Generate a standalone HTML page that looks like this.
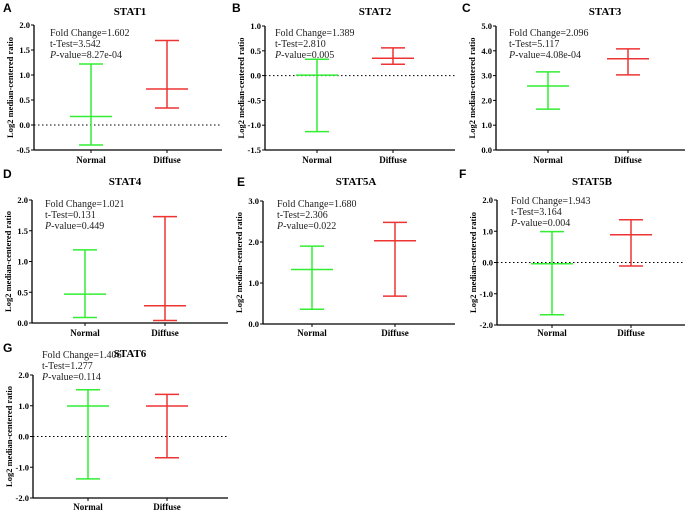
<!DOCTYPE html>
<html><head><meta charset="utf-8">
<style>
body{margin:0;background:#fff;}
svg{display:block;font-family:"Liberation Serif",serif;}
.lt{font-family:"Liberation Sans",sans-serif;font-weight:bold;font-size:12px;}
</style></head>
<body>
<svg id="fig" width="685" height="512" viewBox="0 0 685 512" xmlns="http://www.w3.org/2000/svg"></svg>
<script>
const panelTitles=["STAT1","STAT2","STAT3","STAT4","STAT5A","STAT5B","STAT6"];
const panelLetters=["A","B","C","D","E","F","G"];
const categories=["Normal","Diffuse"];
const normalMean=[0.17,0.01,2.58,0.47,1.33,-0.04,0.99];
const normalLow=[-0.40,-1.13,1.65,0.09,0.36,-1.67,-1.38];
const normalHigh=[1.22,0.33,3.15,1.19,1.90,0.99,1.52];
const diffuseMean=[0.72,0.35,3.68,0.28,2.03,0.89,0.99];
const diffuseLow=[0.34,0.23,3.03,0.04,0.68,-0.11,-0.69];
const diffuseHigh=[1.69,0.56,4.08,1.73,2.48,1.37,1.37];
const foldChange=["1.602","1.389","2.096","1.021","1.680","1.943","1.406"];
const tTest=["3.542","2.810","5.117","0.131","2.306","3.164","1.277"];
const pValue=["8.27e-04","0.005","4.08e-04","0.449","0.022","0.004","0.114"];
const yMin=[-0.5,-1.5,0,0,0,-2,-2];
const yMax=[2,1,5,2,3,2,2];
const yStep=[0.5,0.5,1,0.5,1,1,1];

// layout (not data)
const L=[
 {ax:34,top:25,bot:150,right:222,xs:[91,167],tx:130,ty:15,lx:3,ly:12,ax2:50,ay:36,xl:163},
 {ax:265,top:26,bot:150,right:455,xs:[317,393],tx:375,ty:15,lx:232,ly:12,ax2:275,ay:36,xl:163},
 {ax:496,top:26,bot:150,right:685,xs:[548,628],tx:605,ty:15,lx:462,ly:12,ax2:509,ay:36,xl:163},
 {ax:32,top:200,bot:323,right:228,xs:[85,165],tx:125,ty:185,lx:3,ly:178,ax2:45,ay:207,xl:336},
 {ax:263,top:201,bot:324,right:455,xs:[312,395],tx:356,ty:185,lx:237,ly:186,ax2:277,ay:207,xl:336},
 {ax:497,top:200,bot:325,right:685,xs:[552,631],tx:592,ty:185,lx:459,ly:178,ax2:511,ay:204,xl:336},
 {ax:33,top:375,bot:498,right:228,xs:[88,167],tx:130,ty:357,lx:3,ly:352,ax2:42,ay:358,xl:510}
];
const NS="http://www.w3.org/2000/svg";
const svg=document.getElementById('fig');
function mk(tag,attrs,parent,txt){const e=document.createElementNS(NS,tag);for(const k in attrs)e.setAttribute(k,attrs[k]);if(txt!==undefined)e.textContent=txt;(parent||svg).appendChild(e);return e;}
const colors=["#33ee33","#ee3333"];
for(let i=0;i<7;i++){
 const c=L[i];
 const g=mk('g',{});
 
 
 const y=v=>c.bot-(v-yMin[i])/(yMax[i]-yMin[i])*(c.bot-c.top);
 let t;
 t=mk('text',{x:c.lx,y:c.ly,class:'lt'},g,panelLetters[i]);
 
 t=mk('text',{x:c.tx,y:c.ty,'font-size':11,'font-weight':'bold','text-anchor':'middle'},g,panelTitles[i]);
 
 // axes
 let a=mk('line',{x1:c.ax,y1:c.top,x2:c.ax,y2:c.bot,stroke:'#000','stroke-width':1.3},g);
 
 a=mk('line',{x1:c.ax,y1:c.bot,x2:c.right,y2:c.bot,stroke:'#000','stroke-width':1.3},g);
 
 const n=Math.round((yMax[i]-yMin[i])/yStep[i]);
 for(let k=0;k<=n;k++){
  const v=yMin[i]+k*yStep[i];const yy=y(v);
  mk('line',{x1:c.ax-3,y1:yy,x2:c.ax,y2:yy,stroke:'#000','stroke-width':1},g);
  t=mk('text',{x:c.ax-4,y:yy+3,'font-size':8.5,'font-weight':'bold','text-anchor':'end'},g,v.toFixed(1));
  
 }
 const cy=(c.top+c.bot)/2;
 t=mk('text',{x:0,y:0,'font-size':8.5,'font-weight':'bold','text-anchor':'middle',transform:`translate(${c.ax-21},${cy}) rotate(-90)`},g,'Log2 median-centered ratio');
 
 if(yMin[i]<0){
  const l=mk('line',{x1:c.ax,y1:y(0),x2:c.right,y2:y(0),stroke:'#000','stroke-width':1,'stroke-dasharray':'1.5,2.5'},g);
  
 }
 const means=[normalMean[i],diffuseMean[i]],lows=[normalLow[i],diffuseLow[i]],highs=[normalHigh[i],diffuseHigh[i]];
 for(let s=0;s<2;s++){
  const x=c.xs[s];
  mk('line',{x1:x,y1:c.bot,x2:x,y2:c.bot+3,stroke:'#000'},g);
  t=mk('text',{x:x,y:c.xl,'font-size':9,'font-weight':'bold','text-anchor':'middle'},g,categories[s]);
  
  const eg=mk('g',{stroke:colors[s],'stroke-width':1.5},g);
  
  
  mk('line',{x1:x,y1:y(lows[s]),x2:x,y2:y(highs[s])},eg);
  mk('line',{x1:x-12,y1:y(lows[s]),x2:x+12,y2:y(lows[s])},eg);
  mk('line',{x1:x-12,y1:y(highs[s]),x2:x+12,y2:y(highs[s])},eg);
  mk('line',{x1:x-21,y1:y(means[s]),x2:x+21,y2:y(means[s])},eg);
 }
 const ann=mk('text',{x:c.ax2,y:c.ay,'font-size':10,fill:'#222'},g);
 
 mk('tspan',{x:c.ax2,dy:0},ann,'Fold Change='+foldChange[i]);
 mk('tspan',{x:c.ax2,dy:11},ann,'t-Test='+tTest[i]);
 const p=mk('tspan',{x:c.ax2,dy:11,'font-style':'italic'},ann,'P');
 mk('tspan',{},ann,'-value='+pValue[i]);
}
</script>
</body></html>
